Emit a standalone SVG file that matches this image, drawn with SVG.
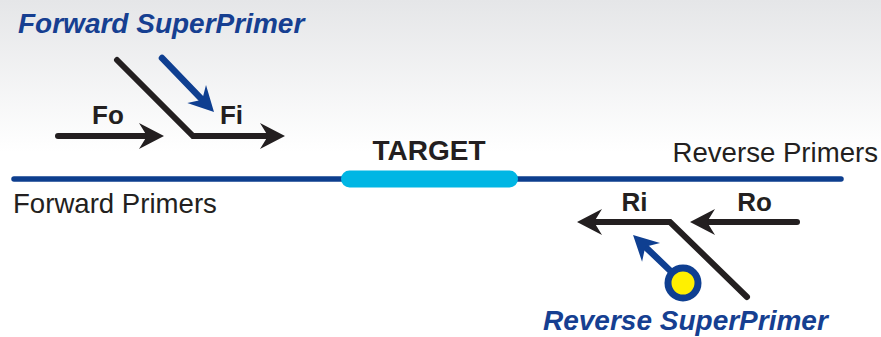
<svg xmlns="http://www.w3.org/2000/svg" width="881" height="337" viewBox="0 0 881 337">
  <defs>
    <linearGradient id="bg" x1="0" y1="0" x2="0" y2="1">
      <stop offset="0" stop-color="#e5e6e8"/>
      <stop offset="0.45" stop-color="#ffffff"/>
      <stop offset="1" stop-color="#ffffff"/>
    </linearGradient>
    <marker id="headBlack" markerUnits="userSpaceOnUse" viewBox="0 -14 26 28" refX="8" refY="0" markerWidth="26" markerHeight="28" orient="auto" overflow="visible">
      <path d="M25,0 L0,-13 L8,0 L0,13 Z" fill="#231f20"/>
    </marker>
    <marker id="headBlue" markerUnits="userSpaceOnUse" viewBox="0 -14 26 28" refX="8" refY="0" markerWidth="26" markerHeight="28" orient="auto" overflow="visible">
      <path d="M25,0 L0,-13 L8,0 L0,13 Z" fill="#0f3f91"/>
    </marker>
    <style>
      .lbl { font-family: "Liberation Sans", Arial, sans-serif; fill: #231f20; }
      .bold { font-weight: bold; font-size: 26px; text-anchor: middle; }
      .plain { font-size: 27.6px; }
      .sp { font-family: "Liberation Sans", Arial, sans-serif; font-weight: bold; font-style: italic; font-size: 28px; fill: #163f91; }
      .primer { fill: none; stroke: #231f20; stroke-width: 6; stroke-linecap: round; stroke-linejoin: miter; marker-end: url(#headBlack); }
      .super { fill: none; stroke: #0f3f91; stroke-width: 6.5; stroke-linecap: round; marker-end: url(#headBlue); }
    </style>
  </defs>

  <rect x="0" y="0" width="881" height="337" fill="url(#bg)"/>

  <g id="template">
    <line x1="14" y1="179" x2="841" y2="179" stroke="#0d3e8e" stroke-width="5.5" stroke-linecap="round"/>
  </g>

  <g id="target">
    <rect x="341" y="170.5" width="177" height="17" rx="8.5" fill="#00b6e4"/>
    <text class="lbl bold" x="429" y="160" style="font-size:28px">TARGET</text>
  </g>

  <g id="forward-primers-label">
    <text class="lbl plain" x="13" y="213">Forward Primers</text>
  </g>
  <g id="reverse-primers-label">
    <text class="lbl plain" x="878" y="162" text-anchor="end">Reverse Primers</text>
  </g>

  <g id="forward-superprimer-label">
    <text class="sp" x="18" y="33">Forward SuperPrimer</text>
  </g>
  <g id="reverse-superprimer-label">
    <text class="sp" x="543" y="330">Reverse SuperPrimer</text>
  </g>

  <g id="connectors">
    <path id="Fo-arrow" class="primer" d="M58,136 L147,136"/>
    <path id="Fi-arrow" class="primer" d="M117,60 L193,136 L268,136"/>
    <path id="Ro-arrow" class="primer" d="M797,222 L707,222"/>
    <path id="Ri-arrow" class="primer" d="M747,297 L670,222 L594,222"/>
    <path id="fsp-arrow" class="super" d="M162,58 L202.2,99.7"/>
    <path id="rsp-arrow" class="super" d="M683,283 L645.3,246.8"/>
  </g>

  <g id="Fo">
    <text class="lbl bold" x="108" y="124">Fo</text>
  </g>
  <g id="Fi">
    <text class="lbl bold" x="231.5" y="124">Fi</text>
  </g>
  <g id="Ri">
    <text class="lbl bold" x="634.5" y="211">Ri</text>
  </g>
  <g id="Ro">
    <text class="lbl bold" x="754.5" y="211">Ro</text>
  </g>

  <g id="superprimer-tag">
    <circle cx="683" cy="283" r="15" fill="#fff000" stroke="#0f3f91" stroke-width="7"/>
  </g>
</svg>
